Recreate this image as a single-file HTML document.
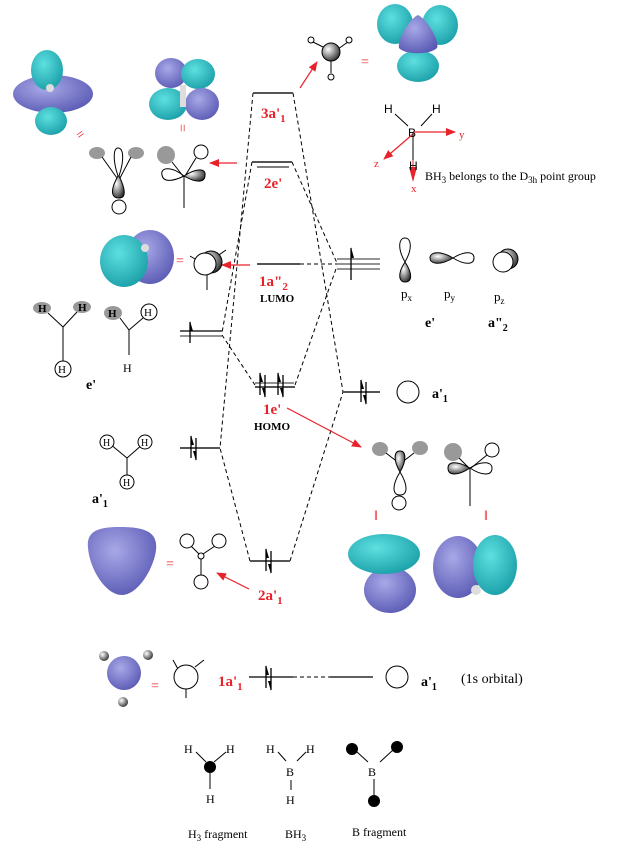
<!DOCTYPE html>
<html><head><meta charset="utf-8"><style>
html,body{margin:0;padding:0;background:#fff;}
svg{display:block;}
text{font-family:"Liberation Serif",serif;}
.r{fill:#e8222a;font-weight:bold;font-size:15px;}
.b{fill:#000;font-weight:bold;font-size:14px;}
.s{font-family:"Liberation Sans",sans-serif;font-size:12px;}
</style></head><body>
<svg width="619" height="849" viewBox="0 0 619 849" xmlns="http://www.w3.org/2000/svg">
<defs>
<marker id="ah" markerWidth="10" markerHeight="8" refX="9" refY="4" orient="auto" markerUnits="userSpaceOnUse"><path d="M0,0 L10,4 L0,8 Z" fill="#e8222a"/></marker>
<radialGradient id="sh" cx="0.35" cy="0.35" r="0.7"><stop offset="0" stop-color="#fff"/><stop offset="1" stop-color="#333"/></radialGradient>
<radialGradient id="cy" cx="0.4" cy="0.35" r="0.7"><stop offset="0" stop-color="#5ee0e0"/><stop offset="1" stop-color="#1a9fa8"/></radialGradient>
<radialGradient id="pu" cx="0.4" cy="0.35" r="0.7"><stop offset="0" stop-color="#a8a8e8"/><stop offset="1" stop-color="#5a5ab4"/></radialGradient>
<g id="pair"><line x1="0" y1="10" x2="0" y2="-12" stroke="#000" stroke-width="1.3"/><path d="M0,-13 L3,-3 L0,-3Z" fill="#000"/><line x1="5" y1="-10" x2="5" y2="12" stroke="#000" stroke-width="1.3"/><path d="M5,13 L2,3 L5,3Z" fill="#000"/></g>
</defs>

<g stroke="#000" stroke-width="1" stroke-dasharray="4,3" fill="none">
<line x1="253" y1="93" x2="220" y2="448"/>
<line x1="293" y1="93" x2="343" y2="392"/>
<line x1="252" y1="162" x2="222" y2="333"/>
<line x1="292" y1="162" x2="337" y2="263"/>
<line x1="300" y1="264" x2="337" y2="264"/>
<line x1="222" y1="335" x2="255" y2="385"/>
<line x1="295" y1="385" x2="337" y2="266"/>
<line x1="250" y1="561" x2="220" y2="448"/>
<line x1="290" y1="561" x2="343" y2="392"/>
<line x1="293" y1="677" x2="330" y2="677"/>
</g>

<g stroke="#555" stroke-width="2">
<line x1="253" y1="93" x2="293" y2="93"/>
<line x1="252" y1="162" x2="292" y2="162"/>
<line x1="257" y1="167" x2="289" y2="167" stroke-width="1.5"/>
<line x1="257" y1="264" x2="300" y2="264"/>
<line x1="337" y1="259" x2="380" y2="259" stroke-width="1.3"/>
<line x1="337" y1="264" x2="380" y2="264" stroke-width="1.3"/>
<line x1="337" y1="269" x2="380" y2="269" stroke-width="1.3"/>
<line x1="180" y1="331" x2="222" y2="331" stroke="#000" stroke-width="1.3"/>
<line x1="180" y1="336" x2="222" y2="336" stroke-width="1.3"/>
<line x1="255" y1="383" x2="294" y2="383" stroke-width="1.3"/>
<line x1="255" y1="387" x2="295" y2="387"/>
<line x1="343" y1="392" x2="380" y2="392"/>
<line x1="180" y1="448" x2="220" y2="448"/>
<line x1="250" y1="561" x2="290" y2="561"/>
<line x1="249" y1="677" x2="293" y2="677" stroke="#000" stroke-width="1.3"/>
<line x1="330" y1="677" x2="373" y2="677" stroke="#000" stroke-width="1.3"/>
</g>
<g><line x1="190" y1="343" x2="190" y2="322" stroke="#000" stroke-width="1.3"/><path d="M190,321 L193,331 L190,331Z"/></g>
<g><line x1="351" y1="280" x2="351" y2="248" stroke="#000" stroke-width="1.3"/><path d="M351,247 L354,258 L351,258Z"/></g>
<use href="#pair" x="260" y="385"/><use href="#pair" x="278" y="385"/>
<use href="#pair" x="361" y="392"/>
<use href="#pair" x="191" y="448"/>
<use href="#pair" x="266" y="561"/>
<use href="#pair" x="266" y="678"/>

<text class="r" x="261" y="118">3a'<tspan font-size="11" dy="4">1</tspan></text>
<text class="r" x="264" y="188">2e'</text>
<text class="r" x="259" y="286">1a"<tspan font-size="11" dy="4">2</tspan></text>
<text class="b" x="260" y="302" style="font-size:11px">LUMO</text>
<text class="r" x="263" y="414">1e'</text>
<text class="b" x="254" y="430" style="font-size:11px">HOMO</text>
<text class="r" x="258" y="600">2a'<tspan font-size="11" dy="4">1</tspan></text>
<text class="r" x="218" y="686">1a'<tspan font-size="11" dy="4">1</tspan></text>

<g stroke="#e8222a" stroke-width="1.2" marker-end="url(#ah)">
<line x1="300" y1="88" x2="317" y2="62"/>
<line x1="237" y1="163" x2="210" y2="163"/>
<line x1="250" y1="265" x2="222" y2="265"/>
<line x1="287" y1="408" x2="361" y2="447"/>
<line x1="249" y1="589" x2="217" y2="573"/>
</g>

<ellipse cx="53" cy="94" rx="40" ry="19" fill="url(#pu)"/>
<ellipse cx="47" cy="70" rx="16" ry="20" fill="url(#cy)"/>
<ellipse cx="51" cy="121" rx="16" ry="14" fill="url(#cy)"/>
<circle cx="50" cy="88" r="4" fill="#ddd"/>
<ellipse cx="171" cy="73" rx="16" ry="15" fill="url(#pu)"/>
<ellipse cx="198" cy="74" rx="17" ry="15" fill="url(#cy)"/>
<ellipse cx="168" cy="104" rx="19" ry="16" fill="url(#cy)"/>
<ellipse cx="202" cy="104" rx="17" ry="16" fill="url(#pu)"/>
<rect x="180" y="85" width="6" height="22" fill="#ddd"/>
<text x="76" y="139" fill="#e8222a" font-size="14" transform="rotate(-35 80 134)">=</text>
<text x="177" y="135" fill="#e8222a" font-size="14" transform="rotate(90 183 130)">=</text>

<ellipse cx="97" cy="153" rx="8" ry="6" fill="#999"/><ellipse cx="136" cy="153" rx="8" ry="6" fill="#999"/>
<g stroke="#000" fill="none" stroke-width="1"><line x1="102" y1="157" x2="117" y2="178"/><line x1="131" y1="157" x2="120" y2="178"/>
<path d="M118,176 C112,158 114,148 118,148 C123,148 125,158 119,176Z"/></g>
<path d="M118,176 C110,190 111,198 119,198 C126,198 126,190 119,176Z" fill="url(#sh)" stroke="#000"/>
<circle cx="119" cy="207" r="7" fill="#fff" stroke="#000"/>
<circle cx="166" cy="155" r="9" fill="#999"/><circle cx="201" cy="152" r="7" fill="#fff" stroke="#000"/>
<g stroke="#000" fill="none"><line x1="172" y1="162" x2="183" y2="176"/><line x1="196" y1="158" x2="185" y2="176"/><line x1="184" y1="176" x2="184" y2="208"/>
<path d="M184,176 C170,165 160,168 162,175 C163,182 172,182 184,176Z"/></g>
<path d="M184,176 C196,168 206,168 205,175 C205,183 196,183 184,176Z" fill="url(#sh)" stroke="#000"/>

<ellipse cx="150" cy="257" rx="24" ry="27" fill="url(#pu)"/>
<ellipse cx="124" cy="261" rx="24" ry="26" fill="url(#cy)"/>
<circle cx="145" cy="248" r="4" fill="#ddd"/>
<text x="176" y="265" fill="#e8222a" font-size="14">=</text>
<g stroke="#000" fill="none"><line x1="190" y1="256" x2="200" y2="262"/><line x1="226" y1="250" x2="216" y2="257"/><line x1="207" y1="270" x2="207" y2="290"/></g>
<circle cx="211" cy="262" r="11" fill="url(#sh)" stroke="#000"/>
<circle cx="205" cy="264" r="11" fill="#fff" stroke="#000"/>

<ellipse cx="42" cy="308" rx="9" ry="6" fill="#999"/><ellipse cx="82" cy="307" rx="9" ry="6" fill="#999"/>
<text x="38" y="312" font-size="11" font-weight="bold">H</text><text x="78" y="311" font-size="11" font-weight="bold">H</text>
<g stroke="#000" fill="none"><line x1="48" y1="313" x2="63" y2="327"/><line x1="77" y1="312" x2="63" y2="327"/><line x1="63" y1="327" x2="63" y2="361" stroke="#555" stroke-width="1.5"/></g>
<circle cx="63" cy="369" r="8" fill="#fff" stroke="#000"/><text x="58" y="373" font-size="11">H</text>
<ellipse cx="113" cy="313" rx="9" ry="7" fill="#999"/><text x="108" y="317" font-size="11" font-weight="bold">H</text>
<circle cx="149" cy="312" r="8" fill="#fff" stroke="#000"/><text x="144" y="316" font-size="11">H</text>
<g stroke="#000" fill="none"><line x1="120" y1="318" x2="129" y2="330"/><line x1="143" y1="318" x2="129" y2="330"/><line x1="129" y1="330" x2="129" y2="355"/></g>
<text x="123" y="372" font-family="Liberation Sans" font-size="12">H</text>
<text class="b" x="86" y="389">e'</text>

<g stroke="#000" fill="none"><line x1="110" y1="444" x2="127" y2="458"/><line x1="143" y1="444" x2="127" y2="458"/><line x1="127" y1="458" x2="127" y2="476"/></g>
<circle cx="107" cy="442" r="7" fill="#fff" stroke="#000"/><circle cx="145" cy="442" r="7" fill="#fff" stroke="#000"/><circle cx="127" cy="482" r="7" fill="#fff" stroke="#000"/>
<text x="103" y="446" font-size="10">H</text><text x="141" y="446" font-size="10">H</text><text x="123" y="486" font-size="10">H</text>
<text class="b" x="92" y="503">a'<tspan font-size="10" dy="4">1</tspan></text>

<path d="M88,548 C86,530 100,527 120,527 C145,527 158,532 156,550 C154,568 138,595 122,595 C106,595 90,570 88,548Z" fill="url(#pu)"/>
<text x="166" y="568" fill="#e8222a" font-size="14">=</text>
<g stroke="#000" fill="none"><line x1="191" y1="546" x2="199" y2="554"/><line x1="215" y1="546" x2="203" y2="554"/><line x1="201" y1="559" x2="201" y2="575"/></g>
<circle cx="187" cy="541" r="7" fill="#fff" stroke="#000"/><circle cx="219" cy="541" r="7" fill="#fff" stroke="#000"/><circle cx="201" cy="582" r="7" fill="#fff" stroke="#000"/><circle cx="201" cy="556" r="3" fill="#fff" stroke="#000"/>

<circle cx="104" cy="656" r="5" fill="url(#sh)"/><circle cx="148" cy="655" r="5" fill="url(#sh)"/><circle cx="123" cy="702" r="5" fill="url(#sh)"/>
<circle cx="124" cy="673" r="17" fill="url(#pu)"/>
<text x="151" y="690" fill="#e8222a" font-size="14">=</text>
<g stroke="#000" fill="none"><line x1="173" y1="660" x2="178" y2="669"/><line x1="204" y1="660" x2="195" y2="667"/><line x1="186" y1="689" x2="186" y2="698"/></g>
<circle cx="186" cy="677" r="12" fill="#fff" stroke="#000"/>
<circle cx="397" cy="677" r="11" fill="#fff" stroke="#000"/>
<text class="b" x="421" y="686">a'<tspan font-size="10" dy="4">1</tspan></text>
<text x="461" y="683" font-size="14">(1s orbital)</text>

<g stroke="#000" fill="none"><line x1="313" y1="42" x2="325" y2="48"/><line x1="348" y1="42" x2="338" y2="49"/><line x1="331" y1="60" x2="331" y2="73"/></g>
<circle cx="311" cy="40" r="3" fill="#fff" stroke="#000"/><circle cx="349" cy="40" r="3" fill="#fff" stroke="#000"/><circle cx="331" cy="77" r="3" fill="#fff" stroke="#000"/>
<circle cx="331" cy="52" r="9" fill="url(#sh)" stroke="#000"/>
<text x="361" y="66" fill="#e8222a" font-size="14">=</text>
<ellipse cx="395" cy="24" rx="18" ry="20" fill="url(#cy)"/><ellipse cx="440" cy="25" rx="18" ry="20" fill="url(#cy)"/>
<ellipse cx="418" cy="66" rx="21" ry="16" fill="url(#cy)"/>
<path d="M418,15 C428,20 440,42 437,48 C430,55 405,55 399,48 C397,40 410,18 418,15Z" fill="url(#pu)"/>
<text class="s" x="384" y="113">H</text><text class="s" x="432" y="113">H</text>
<g stroke="#000"><line x1="395" y1="114" x2="408" y2="126"/><line x1="432" y1="114" x2="421" y2="126"/></g>
<text class="s" x="408" y="137">B</text>
<g stroke="#e8222a" stroke-width="1.2" marker-end="url(#ah)"><line x1="414" y1="132" x2="455" y2="132"/><line x1="413" y1="134" x2="384" y2="159"/></g>
<line x1="413" y1="133" x2="413" y2="162" stroke="#000"/>
<path d="M409,167 L417,167 L413,182Z" fill="#e8222a"/><line x1="413" y1="160" x2="413" y2="168" stroke="#e8222a"/>
<text class="s" x="409" y="170">H</text>
<text x="459" y="138" fill="#e8222a" font-size="11">y</text><text x="374" y="167" fill="#e8222a" font-size="11">z</text><text x="411" y="192" fill="#e8222a" font-size="11">x</text>
<text x="425" y="180" font-size="12">BH<tspan font-size="9" dy="3">3</tspan><tspan dy="-3"> belongs to the D</tspan><tspan font-size="9" dy="3">3h</tspan><tspan dy="-3"> point group</tspan></text>

<path d="M405,262 C397,248 399,238 405,238 C411,238 413,248 405,262Z" fill="#fff" stroke="#000"/>
<path d="M405,262 C397,274 399,282 405,282 C412,282 413,274 405,262Z" fill="url(#sh)" stroke="#000"/>
<path d="M453,258 C440,250 430,252 430,258 C430,264 440,266 453,258Z" fill="url(#sh)" stroke="#000"/>
<path d="M453,258 C466,250 474,252 474,258 C474,264 466,266 453,258Z" fill="#fff" stroke="#000"/>
<circle cx="508" cy="259" r="10" fill="url(#sh)" stroke="#000"/><circle cx="503" cy="262" r="10" fill="#fff" stroke="#000"/>
<text x="401" y="298" font-size="13">p<tspan font-size="9" dy="3">x</tspan></text>
<text x="444" y="298" font-size="13">p<tspan font-size="9" dy="3">y</tspan></text>
<text x="494" y="301" font-size="13">p<tspan font-size="9" dy="3">z</tspan></text>
<text class="b" x="425" y="327">e'</text>
<text class="b" x="488" y="327">a"<tspan font-size="10" dy="4">2</tspan></text>
<circle cx="408" cy="392" r="11" fill="#fff" stroke="#000"/>
<text class="b" x="432" y="398">a'<tspan font-size="10" dy="4">1</tspan></text>

<ellipse cx="380" cy="449" rx="8" ry="7" fill="#999"/><ellipse cx="420" cy="448" rx="8" ry="7" fill="#999"/>
<g stroke="#000" fill="none"><line x1="386" y1="453" x2="395" y2="460"/><line x1="414" y1="453" x2="405" y2="460"/>
<path d="M400,472 C392,485 392,495 400,495 C408,495 408,485 400,472Z"/></g>
<path d="M400,472 C393,460 394,451 400,451 C406,451 407,460 400,472Z" fill="url(#sh)" stroke="#000"/>
<circle cx="399" cy="503" r="7" fill="#fff" stroke="#000"/>
<circle cx="453" cy="452" r="9" fill="#999"/><circle cx="492" cy="450" r="7" fill="#fff" stroke="#000"/>
<g stroke="#000" fill="none"><line x1="459" y1="458" x2="469" y2="468"/><line x1="487" y1="455" x2="471" y2="468"/><line x1="470" y1="468" x2="470" y2="506"/>
<path d="M470,468 C482,460 492,462 492,468 C492,476 482,476 470,468Z"/></g>
<path d="M470,468 C456,460 448,462 448,468 C448,476 458,476 470,468Z" fill="url(#sh)" stroke="#000"/>
<text x="374" y="520" fill="#e8222a" font-size="14">ǁ</text><text x="484" y="520" fill="#e8222a" font-size="14">ǁ</text>
<ellipse cx="390" cy="590" rx="26" ry="23" fill="url(#pu)"/>
<ellipse cx="384" cy="554" rx="36" ry="20" fill="url(#cy)"/>
<ellipse cx="458" cy="567" rx="25" ry="31" fill="url(#pu)"/>
<ellipse cx="495" cy="565" rx="22" ry="30" fill="url(#cy)"/>
<circle cx="476" cy="590" r="5" fill="#ddd"/>

<g font-family="Liberation Sans" font-size="12">
<text x="184" y="753">H</text><text x="226" y="753">H</text><text x="206" y="803">H</text>
<text x="266" y="753">H</text><text x="306" y="753">H</text><text x="286" y="776">B</text><text x="286" y="804">H</text>
<text x="368" y="776">B</text>
</g>
<g stroke="#000"><line x1="196" y1="752" x2="206" y2="762"/><line x1="226" y1="752" x2="214" y2="762"/><line x1="210" y1="772" x2="210" y2="789"/>
<line x1="278" y1="752" x2="286" y2="761"/><line x1="306" y1="752" x2="297" y2="761"/><line x1="291" y1="780" x2="291" y2="790"/>
<line x1="357" y1="752" x2="368" y2="762"/><line x1="393" y1="750" x2="380" y2="762"/><line x1="374" y1="779" x2="374" y2="795"/></g>
<circle cx="210" cy="767" r="6"/>
<circle cx="352" cy="749" r="6"/><circle cx="397" cy="747" r="6"/><circle cx="374" cy="801" r="6"/>
<text x="188" y="838" font-size="12">H<tspan font-size="9" dy="3">3</tspan><tspan dy="-3"> fragment</tspan></text>
<text x="285" y="838" font-size="12">BH<tspan font-size="9" dy="3">3</tspan></text>
<text x="352" y="836" font-size="12">B fragment</text>
</svg>
</body></html>
